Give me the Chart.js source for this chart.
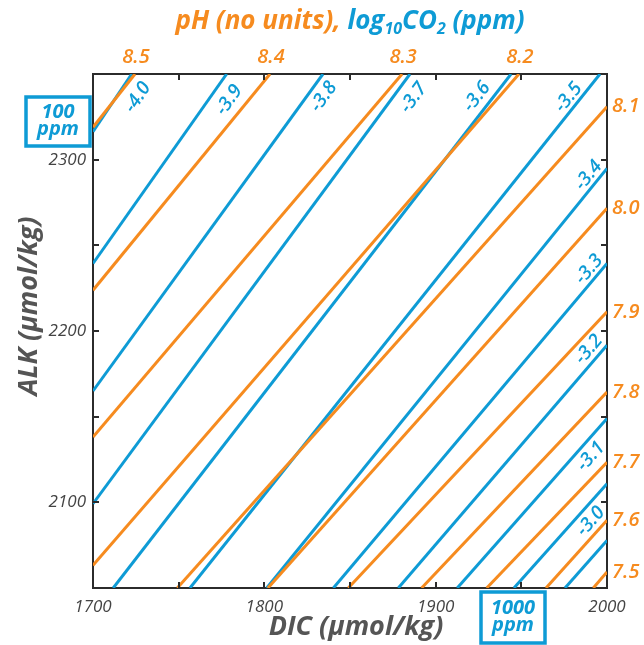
<!DOCTYPE html>
<html>
<head>
<meta charset="utf-8">
<script src="https://cdn.jsdelivr.net/npm/chart.js@4.4.0/dist/chart.umd.min.js"></script>
<style>
html,body{margin:0;padding:0;background:#fff;}
</style>
</head>
<body>
<canvas id="grafica" width="644" height="645"></canvas>
<script>
// lineas de pH (naranja): extremo inferior-izquierdo y superior-derecho
var phNivel=["8.5","8.4","8.3","8.2","8.1","8.0","7.9","7.8","7.7","7.6","7.5"];
var phDicIni=[1700,1700,1700,1700,1749.2,1802.1,1849.0,1891.8,1929.8,1964.4,1992.0];
var phAlkIni=[2318.9,2223.8,2138.1,2063.2,2050,2050,2050,2050,2050,2050,2050];
var phDicFin=[1724.5,1803.3,1880.4,1948.6,2000,2000,2000,2000,2000,2000,2000];
var phAlkFin=[2350,2350,2350,2350,2330.9,2271.7,2211.2,2164.4,2123.4,2089.5,2059.3];

// lineas de log10 CO2 (azul)
var co2Nivel=["-4.0","-3.9","-3.8","-3.7","-3.6","-3.5","-3.4","-3.3","-3.2","-3.1","-3.0",""];
var co2DicIni=[1700,1700,1700,1700,1711.8,1756.6,1801.4,1840.3,1878.2,1912.6,1945.7,1975.5];
var co2AlkIni=[2316.3,2239.4,2165.0,2099.2,2050,2050,2050,2050,2050,2050,2050,2050];
var co2DicFin=[1722.6,1778.0,1834.2,1885.0,1944.0,1995.9,2000,2000,2000,2000,2000,2000];
var co2AlkFin=[2350,2350,2350,2350,2350,2350,2294.9,2239.4,2191.7,2148.9,2110.9,2077.8];

var dicEtiq=[1700,1800,1900,2000];
var alkEtiq=[2100,2200,2300];

var naranja="#F68B1F", azul="#0E9BD5", gris="#444444", negro="#2b2b2b";
var fuente='"Open Sans", "Noto Sans", sans-serif';

// donde va cada etiqueta azul: distancia sobre la linea desde su extremo y desplazamiento lateral
var etqAvance=[16,20,18,17,39,38,17,16,15,39,39];
var etqLado=[-18,-17,-14,-17,13,10,10,10,11,-13,-13];

var datasets=[];
phNivel.forEach(function(n,i){
	datasets.push({label:"pH "+n,data:[{x:phDicIni[i],y:phAlkIni[i]},{x:phDicFin[i],y:phAlkFin[i]}],
		borderColor:naranja,borderWidth:3,showLine:true,pointRadius:0});
});
co2Nivel.forEach(function(n,i){
	datasets.push({label:"CO2 "+n,data:[{x:co2DicIni[i],y:co2AlkIni[i]},{x:co2DicFin[i],y:co2AlkFin[i]}],
		borderColor:azul,borderWidth:3,showLine:true,pointRadius:0});
});

function textoCompuesto(ctx,partes,cx,y,tam){
	var total=0;
	partes.forEach(function(p){
		ctx.font="italic bold "+(p.sub?Math.round(tam*0.62):tam)+"px "+fuente;
		p.w=ctx.measureText(p.t).width;
		total+=p.w;
	});
	var x=cx-total/2;
	ctx.textAlign="left";ctx.textBaseline="alphabetic";
	partes.forEach(function(p){
		ctx.font="italic bold "+(p.sub?Math.round(tam*0.62):tam)+"px "+fuente;
		ctx.fillStyle=p.c;
		ctx.fillText(p.t,x,y+(p.sub?tam*0.2:0));
		x+=p.w;
	});
}

function caja(ctx,x,y,w,h,l1,l2){
	ctx.strokeStyle=azul;ctx.lineWidth=3.5;
	ctx.strokeRect(x,y,w,h);
	ctx.fillStyle=azul;ctx.font="italic bold 20px "+fuente;
	ctx.textAlign="center";ctx.textBaseline="middle";
	ctx.fillText(l1,x+w/2,y+h*0.31);
	ctx.fillText(l2,x+w/2,y+h*0.66);
}

var adornos={
	id:"adornos",
	afterDraw:function(chart){
		var ctx=chart.ctx, ca=chart.chartArea, sx=chart.scales.x, sy=chart.scales.y;
		ctx.save();
		// marcas hacia dentro
		ctx.strokeStyle=negro;ctx.lineWidth=2;
		for(var v=1750;v<2000;v+=50){
			var px=Math.round(sx.getPixelForValue(v));
			ctx.beginPath();
			ctx.moveTo(px,ca.bottom);ctx.lineTo(px,ca.bottom-6);
			ctx.moveTo(px,ca.top);ctx.lineTo(px,ca.top+6);
			ctx.stroke();
		}
		for(var w=2100;w<2350;w+=50){
			var py=Math.round(sy.getPixelForValue(w));
			ctx.beginPath();
			ctx.moveTo(ca.left,py);ctx.lineTo(ca.left+6,py);
			ctx.moveTo(ca.right,py);ctx.lineTo(ca.right-6,py);
			ctx.stroke();
		}
		// etiquetas de pH
		ctx.fillStyle=naranja;ctx.font="italic 600 20px "+fuente;
		phNivel.forEach(function(n,i){
			var px=sx.getPixelForValue(phDicFin[i]), py=sy.getPixelForValue(phAlkFin[i]);
			if(phAlkFin[i]>=2350){
				ctx.textAlign="center";ctx.textBaseline="middle";
				ctx.fillText(n,px+1,57);
			}else{
				ctx.textAlign="left";ctx.textBaseline="middle";
				ctx.fillText(n,ca.right+5,py);
			}
		});
		// etiquetas de CO2 giradas con la linea
		ctx.fillStyle=azul;ctx.font="italic 600 19px "+fuente;
		co2Nivel.forEach(function(n,i){
			if(n==="")return;
			var xe=sx.getPixelForValue(co2DicFin[i]), ye=sy.getPixelForValue(co2AlkFin[i]);
			var xs=sx.getPixelForValue(co2DicIni[i]), ys=sy.getPixelForValue(co2AlkIni[i]);
			var dx=xs-xe, dy=ys-ye, l=Math.sqrt(dx*dx+dy*dy);
			var ux=dx/l, uy=dy/l;
			var nx=-Math.abs(uy), ny=-Math.abs(ux); // lado superior-izquierdo
			var cx=xe+etqAvance[i]*ux+etqLado[i]*nx, cy=ye+etqAvance[i]*uy+etqLado[i]*ny;
			ctx.save();
			ctx.translate(cx,cy);
			ctx.rotate(Math.atan2(-uy,-ux));
			ctx.textAlign="center";ctx.textBaseline="middle";
			ctx.fillText(n,0,0);
			ctx.restore();
		});
		// titulo
		textoCompuesto(ctx,[
			{t:"pH (no units), ",c:naranja},
			{t:"log",c:azul},{t:"10",c:azul,sub:true},
			{t:"CO",c:azul},{t:"2",c:azul,sub:true},
			{t:" (ppm)",c:azul}
		],350,29,26);
		// titulos de ejes
		ctx.fillStyle="#555555";ctx.font="italic bold 27px "+fuente;
		ctx.textAlign="center";ctx.textBaseline="middle";
		ctx.fillText("DIC (\u03bcmol/kg)",356,627);
		ctx.save();
		ctx.translate(29,306);ctx.rotate(-Math.PI/2);
		ctx.fillText("ALK (\u03bcmol/kg)",0,0);
		ctx.restore();
		// cajas
		caja(ctx,26,97,64,49,"100","ppm");
		caja(ctx,481,592,64,51,"1000","ppm");
		ctx.restore();
	}
};

function ejeX(pos,alto,conTicks){
	return {type:"linear",position:pos,min:1700,max:2000,
		afterFit:function(s){s.height=alto;},
		grid:{display:false,drawTicks:false},
		border:{display:true,color:negro,width:2},
		ticks:{display:conTicks,stepSize:50,autoSkip:false,maxRotation:0,padding:9,color:gris,
			font:{family:fuente,style:"italic",size:17},
			callback:function(v){return dicEtiq.indexOf(v)>=0?String(v):"";}}};
}
function ejeY(pos,ancho,conTicks){
	return {type:"linear",position:pos,min:2050,max:2350,
		afterFit:function(s){s.width=ancho;},
		grid:{display:false,drawTicks:false},
		border:{display:true,color:negro,width:2},
		ticks:{display:conTicks,stepSize:50,autoSkip:false,padding:7,color:gris,
			font:{family:fuente,style:"italic",size:17},
			callback:function(v){return alkEtiq.indexOf(v)>=0?String(v):"";}}};
}

var grafica=new Chart(document.getElementById("grafica"),{
	type:"scatter",
	data:{datasets:datasets},
	options:{
		responsive:false,
		animation:false,
		devicePixelRatio:1,
		layout:{padding:0},
		plugins:{legend:{display:false},tooltip:{enabled:false}},
		scales:{
			x:ejeX("bottom",57,true),
			x2:ejeX("top",74,false),
			y:ejeY("left",93,true),
			y2:ejeY("right",37,false)
		}
	},
	plugins:[adornos]
});
</script>
</body>
</html>
